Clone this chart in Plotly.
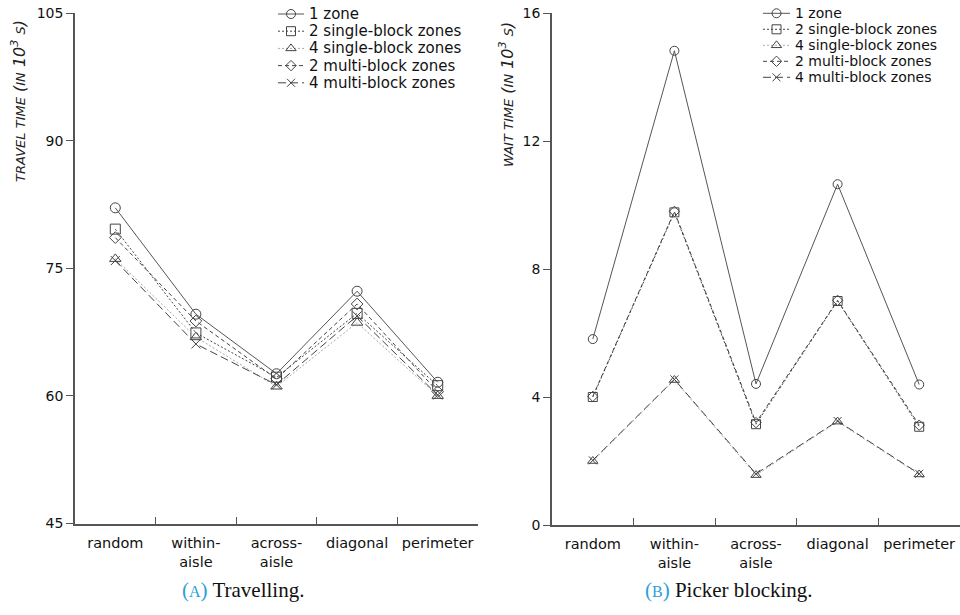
import plotly.graph_objects as go

categories = ["random", "within-<br>aisle", "across-<br>aisle", "diagonal", "perimeter"]
series_names = ["1 zone", "2 single-block zones", "4 single-block zones",
                "2 multi-block zones", "4 multi-block zones"]

travel_1zone = [82.1, 69.6, 62.6, 72.3, 61.6]
travel_2single = [79.6, 67.4, 62.2, 69.7, 61.2]
travel_4single = [76.1, 66.9, 61.1, 68.6, 60.0]
travel_2multi = [78.6, 68.8, 62.0, 70.8, 60.5]
travel_4multi = [75.9, 66.1, 61.3, 69.4, 60.1]

wait_1zone = [5.81, 14.82, 4.41, 10.65, 4.39]
wait_2single = [4.0, 9.77, 3.15, 7.0, 3.07]
wait_4single = [2.0, 4.53, 1.56, 3.23, 1.58]
wait_2multi = [4.02, 9.8, 3.2, 7.02, 3.12]
wait_4multi = [2.02, 4.55, 1.6, 3.25, 1.6]

travel_ticks = [45, 60, 75, 90, 105]
wait_ticks = [0, 4, 8, 12, 16]

travel = [travel_1zone, travel_2single, travel_4single, travel_2multi, travel_4multi]
wait = [wait_1zone, wait_2single, wait_4single, wait_2multi, wait_4multi]

MK = "#444444"
styles = [
    dict(color="#555555", dash="solid", symbol="circle-open", size=10),
    dict(color="#444444", dash="2px,2px", symbol="square-open", size=10),
    dict(color="#aaaaaa", dash="2px,2px", symbol="triangle-up-open", size=10),
    dict(color="#444444", dash="4px,3px", symbol="diamond-open", size=9),
    dict(color="#444444", dash="8px,4px", symbol="x-thin-open", size=9),
]

W, H = 960, 615
fig = go.Figure()
xs = list(range(len(categories)))

def add_series(data, xa, ya, size_adj=0):
    for i in range(5):
        st = styles[i]
        fig.add_trace(go.Scatter(
            x=xs, y=data[i], name=series_names[i], mode="lines+markers",
            line=dict(color=st["color"], width=1, dash=st["dash"]),
            marker=dict(symbol=st["symbol"], size=st["size"] + size_adj, color=MK,
                        line=dict(color=MK, width=1)),
            xaxis=xa, yaxis=ya, showlegend=False, hoverinfo="x+y+name"))

add_series(travel, "x", "y")
add_series(wait, "x2", "y2", size_adj=-1)

# ---- manual legends (layout positions in pixels on an overlay axis) ----
legend_specs = [
    dict(x0=278, x1=304, tx=307, y0=14.0, gap=17.2, fs=15),
    dict(x0=763, x1=790, tx=793, y0=13.3, gap=16.0, fs=14),
]
for spec in legend_specs:
    for i in range(5):
        st = styles[i]
        yy = spec["y0"] + i * spec["gap"]
        xm = (spec["x0"] + spec["x1"]) / 2
        fig.add_trace(go.Scatter(
            x=[spec["x0"], spec["x1"]], y=[yy, yy], mode="lines",
            line=dict(color=st["color"], width=1, dash=st["dash"]),
            xaxis="x3", yaxis="y3", showlegend=False, hoverinfo="skip"))
        fig.add_trace(go.Scatter(
            x=[xm], y=[yy], mode="markers",
            marker=dict(symbol=st["symbol"], size=st["size"] - 1, color=MK,
                        line=dict(color=MK, width=1)),
            xaxis="x3", yaxis="y3", showlegend=False, hoverinfo="skip"))
        fig.add_annotation(
            x=spec["tx"], y=yy, xref="x3", yref="y3", xanchor="left", yanchor="middle",
            showarrow=False, text=series_names[i],
            font=dict(family="DejaVu Sans", size=spec["fs"], color="#111111"))

def px_x(p):
    return p / W

def px_y(p):
    return 1 - p / H

xcommon = dict(
    range=[-0.5, 4.5], tickmode="array", tickvals=xs, ticktext=categories,
    ticks="", showline=True, linecolor="#555555", linewidth=1.5, zeroline=False,
    showgrid=False, tickfont=dict(family="DejaVu Sans", size=14.5, color="#111111"),
    ticklabelstandoff=5, automargin=False,
    minor=dict(tickmode="array", tickvals=[0.5, 1.5, 2.5, 3.5], ticks="inside",
               ticklen=7, tickcolor="#555555", tickwidth=1, showgrid=False),
    fixedrange=True,
)
ycommon = dict(
    tickmode="array", ticks="outside", ticklen=7, tickcolor="#555555", tickwidth=1,
    showline=True, linecolor="#555555", linewidth=1.5, zeroline=False, showgrid=False,
    tickfont=dict(family="DejaVu Sans", size=14, color="#111111"), fixedrange=True,
    automargin=False,
)

fig.update_layout(
    template="none",
    width=W, height=H, margin=dict(l=0, r=0, t=0, b=0, autoexpand=False),
    paper_bgcolor="white", plot_bgcolor="rgba(0,0,0,0)",
    showlegend=False,
    xaxis=dict(domain=[px_x(75), px_x(478)], anchor="y", **xcommon),
    yaxis=dict(domain=[px_y(523.5), px_y(13)], range=[45, 105], tickvals=travel_ticks,
               anchor="x", **ycommon),
    xaxis2=dict(domain=[px_x(552), 1.0], anchor="y2", **xcommon),
    yaxis2=dict(domain=[px_y(525), px_y(13)], range=[0, 16], tickvals=wait_ticks,
                anchor="x2", **ycommon),
    xaxis3=dict(domain=[0, 1], range=[0, W], visible=False, fixedrange=True, anchor="y3"),
    yaxis3=dict(domain=[0, 1], range=[H, 0], visible=False, fixedrange=True, anchor="x3"),
)

small = "font-size:13px"
fig.add_annotation(
    x=px_x(19), y=px_y(101), xref="paper", yref="paper", textangle=-90, showarrow=False,
    xanchor="center", yanchor="middle",
    text=f"<i><span style='{small}'>TRAVEL TIME</span> (<span style='{small}'>IN</span> 10<sup>3</sup> <span style='{small}'>S</span>)</i>",
    font=dict(family="DejaVu Sans", size=16, color="#222222"))
fig.add_annotation(
    x=px_x(506), y=px_y(95), xref="paper", yref="paper", textangle=-90, showarrow=False,
    xanchor="center", yanchor="middle",
    text=f"<i><span style='{small}'>WAIT TIME</span> (<span style='{small}'>IN</span> 10<sup>3</sup> <span style='{small}'>S</span>)</i>",
    font=dict(family="DejaVu Sans", size=16, color="#222222"))

cap_blue = "#2a9fd8"
fig.add_annotation(
    x=px_x(243), y=px_y(590), xref="paper", yref="paper", showarrow=False,
    xanchor="center", yanchor="middle",
    text=f"<span style='color:{cap_blue}'>(<span style='font-size:16px'>A</span>)</span> Travelling.",
    font=dict(family="Liberation Serif", size=21, color="#111111"))
fig.add_annotation(
    x=px_x(729), y=px_y(590), xref="paper", yref="paper", showarrow=False,
    xanchor="center", yanchor="middle",
    text=f"<span style='color:{cap_blue}'>(<span style='font-size:16px'>B</span>)</span> Picker blocking.",
    font=dict(family="Liberation Serif", size=21, color="#111111"))

fig.write_html("out.html")
